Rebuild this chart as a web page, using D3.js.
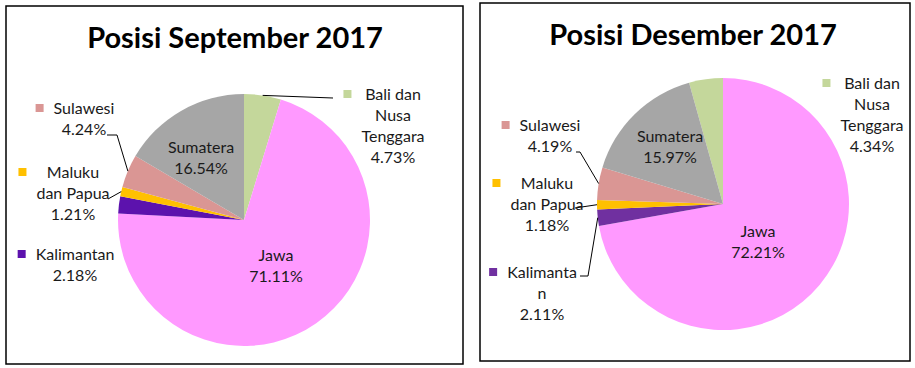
<!DOCTYPE html>
<html>
<head>
<meta charset="utf-8">
<script src="https://cdn.jsdelivr.net/npm/d3@7"></script>
<style>
  body { margin: 0; background: #fff; }
  svg { display: block; font-family: Lato, "Open Sans", sans-serif; }
</style>
</head>
<body>
<svg id="chart" width="915" height="368"></svg>
<script>
// Region shares of poor population, Sept vs Dec 2017

const regions = ["Bali dan Nusa Tenggara", "Jawa", "Kalimantan", "Maluku dan Papua", "Sulawesi", "Sumatera"];
const septemberValues = [4.73, 71.11, 2.18, 1.21, 4.24, 16.54];
const desemberValues = [4.34, 72.21, 2.11, 1.18, 4.19, 15.97];
const septemberColors = ["#c4d79b", "#ff99ff", "#5c12ad", "#ffc000", "#da9694", "#a6a6a6"];
const desemberColors = ["#c4d79b", "#ff99ff", "#7030a0", "#ffc000", "#da9694", "#a6a6a6"];
const titles = ["Posisi September 2017", "Posisi Desember 2017"];

const svg = d3.select("#chart");
const fmt = d => d3.format(".2f")(d) + "%";

// layout for each panel (wrapping + label spots copied from the original)
const panels = [
    {
        title: titles[0], values: septemberValues, colors: septemberColors,
        box: [6, 6, 457, 358], center: [244, 220], r: 126, titleX: 235, titleY: 48,
        startAngle: 0,
        labels: [
            { lines: ["Bali dan", "Nusa", "Tenggara"], x: 393, y: 94, key: true, leader: [[333, 98]] },
            { lines: ["Jawa"], x: 276, y: 255 },
            { lines: ["Kalimantan"], x: 75, y: 254, key: true },
            { lines: ["Maluku", "dan Papua"], x: 73, y: 172, key: true, leader: [[108, 199]] },
            { lines: ["Sulawesi"], x: 84, y: 108, key: true, leader: [[107, 135], [117, 135]] },
            { lines: ["Sumatera"], x: 201, y: 147 }
        ]
    },
    {
        title: titles[1], values: desemberValues, colors: desemberColors,
        box: [480, 3, 430, 358], center: [723, 204], r: 126, titleX: 693, titleY: 45,
        // Bali sits just left of 12 o'clock here
        startAngle: -2 * Math.PI * desemberValues[0] / d3.sum(desemberValues),
        labels: [
            { lines: ["Bali dan", "Nusa", "Tenggara"], x: 872, y: 83, key: true },
            { lines: ["Jawa"], x: 758, y: 231 },
            { lines: ["Kalimanta", "n"], x: 542, y: 272, key: true, leader: [[580, 276], [588, 276]] },
            { lines: ["Maluku", "dan Papua"], x: 547, y: 183, key: true, leader: [[575, 208]] },
            { lines: ["Sulawesi"], x: 550, y: 125, key: true, leader: [[576, 152], [580, 152]] },
            { lines: ["Sumatera"], x: 670, y: 136 }
        ]
    }
];

const lineH = 21;

panels.forEach(p => {
    const g = svg.append("g");

    g.append("rect")
        .attr("x", p.box[0]).attr("y", p.box[1])
        .attr("width", p.box[2]).attr("height", p.box[3])
        .attr("fill", "#fff").attr("stroke", "#000").attr("stroke-width", 1.5);

    g.append("text")
        .attr("x", p.titleX).attr("y", p.titleY)
        .attr("text-anchor", "middle")
        .attr("font-size", 29).attr("font-weight", "bold")
        .attr("fill", "#000")
        .text(p.title);

    const pie = d3.pie().sort(null)
        .startAngle(p.startAngle)
        .endAngle(p.startAngle + 2 * Math.PI);
    const arcs = pie(p.values);
    const arc = d3.arc().innerRadius(0).outerRadius(p.r);

    const pieG = g.append("g").attr("transform", `translate(${p.center[0]},${p.center[1]})`);
    pieG.selectAll("path")
        .data(arcs)
        .join("path")
        .attr("d", arc)
        .attr("fill", (d, i) => p.colors[i]);

    // leader lines end on the arc at each slice's mid angle
    arcs.forEach((a, i) => {
        const lab = p.labels[i];
        if (!lab.leader) return;
        const mid = (a.startAngle + a.endAngle) / 2;
        const end = [p.center[0] + p.r * Math.sin(mid), p.center[1] - p.r * Math.cos(mid)];
        g.append("path")
            .attr("d", d3.line()(lab.leader.concat([end])))
            .attr("fill", "none").attr("stroke", "#000").attr("stroke-width", 1);
    });

    arcs.forEach((a, i) => {
        const lab = p.labels[i];
        const lines = lab.lines.concat([fmt(p.values[i])]);
        const t = g.append("text")
            .attr("text-anchor", "middle")
            .attr("font-size", 16)
            .attr("fill", "#1a1a1a");
        lines.forEach((s, k) => {
            t.append("tspan")
                .attr("x", lab.x)
                .attr("y", lab.y + k * lineH)
                .attr("dy", "0.35em")
                .text(s);
        });
        if (lab.key) {
            const w = d3.max(t.selectAll("tspan").nodes(), n => n.getComputedTextLength());
            g.append("rect")
                .attr("x", lab.x - w / 2 - 18).attr("y", lab.y - 4)
                .attr("width", 8).attr("height", 8)
                .attr("fill", p.colors[i]);
        }
    });
});
</script>
</body>
</html>
